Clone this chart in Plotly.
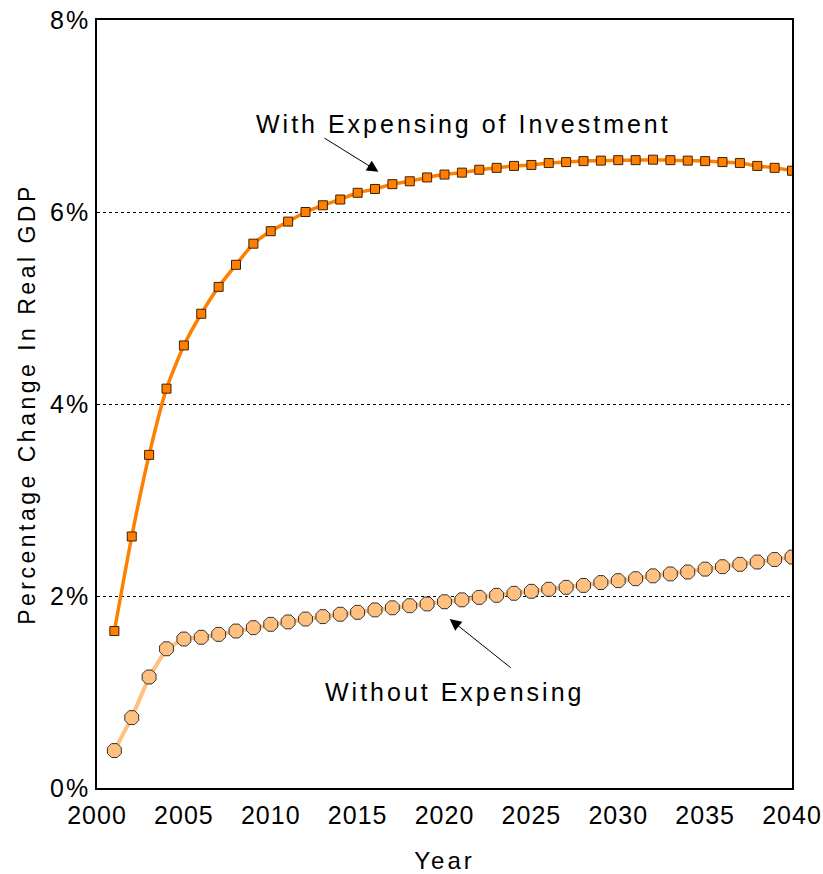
import plotly.graph_objects as go

years = list(range(2001, 2041))
with_expensing = [1.635, 2.62, 3.47, 4.16, 4.61, 4.94, 5.22, 5.45, 5.67, 5.80,
                  5.90, 6.00, 6.07, 6.13, 6.20, 6.24, 6.29, 6.32, 6.36, 6.39,
                  6.41, 6.44, 6.46, 6.48, 6.49, 6.51, 6.52, 6.53, 6.535, 6.54,
                  6.54, 6.545, 6.54, 6.535, 6.53, 6.52, 6.51, 6.48, 6.46, 6.43]
without_expensing = [0.39, 0.733, 1.156, 1.45, 1.552, 1.57, 1.60, 1.635, 1.67, 1.705,
                     1.73, 1.76, 1.785, 1.81, 1.83, 1.855, 1.877, 1.899, 1.917, 1.94,
                     1.96, 1.986, 2.007, 2.028, 2.049, 2.07, 2.09, 2.11, 2.14, 2.16,
                     2.18, 2.21, 2.23, 2.25, 2.28, 2.305, 2.33, 2.354, 2.38, 2.406]
y_ticks = [0, 2, 4, 6, 8]
y_tick_labels = ["0%", "2%", "4%", "6%", "8%"]
x_ticks = [2000, 2005, 2010, 2015, 2020, 2025, 2030, 2035, 2040]
x_tick_labels = [str(v) for v in x_ticks]

FONT = "Liberation Sans, Arial, sans-serif"


def spaced(text, px):
    return f'<span style="letter-spacing:{px}px">{text}</span>'


fig = go.Figure()
fig.add_trace(go.Scatter(
    x=years, y=without_expensing, mode="lines+markers",
    line=dict(color="#FFC080", width=4),
    marker=dict(symbol="octagon", size=15, color="#FFC080",
                line=dict(color="#333333", width=1)),
    showlegend=False))
fig.add_trace(go.Scatter(
    x=years, y=with_expensing, mode="lines+markers",
    line=dict(color="#FF8000", width=3.5, shape="spline", smoothing=0.6),
    marker=dict(symbol="square", size=9, color="#FF8000",
                line=dict(color="#402000", width=1)),
    showlegend=False))

fig.add_annotation(x=2021.1, y=6.92, text=spaced("With Expensing of Investment", 3),
                   showarrow=False, font=dict(size=25, color="black", family=FONT))
fig.add_annotation(x=2016.2, y=6.42, ax=2013.0, ay=6.78, axref="x", ayref="y",
                   text="", showarrow=True, arrowhead=2, arrowsize=2.3,
                   arrowwidth=1, arrowcolor="black")
fig.add_annotation(x=2020.6, y=1.0, text=spaced("Without Expensing", 3),
                   showarrow=False, font=dict(size=25, color="black", family=FONT))
fig.add_annotation(x=2020.3, y=1.76, ax=2023.9, ay=1.24, axref="x", ayref="y",
                   text="", showarrow=True, arrowhead=2, arrowsize=2.3,
                   arrowwidth=1, arrowcolor="black")

fig.update_layout(
    width=823, height=874,
    margin=dict(l=97, r=31, t=20, b=86),
    plot_bgcolor="white", paper_bgcolor="white",
    font=dict(family=FONT, size=24, color="black"),
    xaxis=dict(range=[2000, 2040], tickvals=x_ticks,
               ticktext=[spaced(t, 1) for t in x_tick_labels],
               tickfont=dict(size=25), showgrid=False, automargin=False,
               ticklabelstandoff=4,
               showline=True, linecolor="black", linewidth=1.5, mirror=True,
               ticks="", zeroline=False,
               title=dict(text=spaced("Year", 3), font=dict(size=24), standoff=28)),
    yaxis=dict(range=[0, 8], tickvals=y_ticks,
               ticktext=[spaced(t, 2) for t in y_tick_labels],
               tickfont=dict(size=25), automargin=False,
               showgrid=True, gridcolor="black", griddash="dot", gridwidth=1,
               showline=True, linecolor="black", linewidth=1.5, mirror=True,
               ticks="", zeroline=False,
               title=dict(text=spaced("Percentage Change In Real GDP", 3.5),
                          font=dict(size=23), standoff=8)),
)

fig.write_html("out.html")
